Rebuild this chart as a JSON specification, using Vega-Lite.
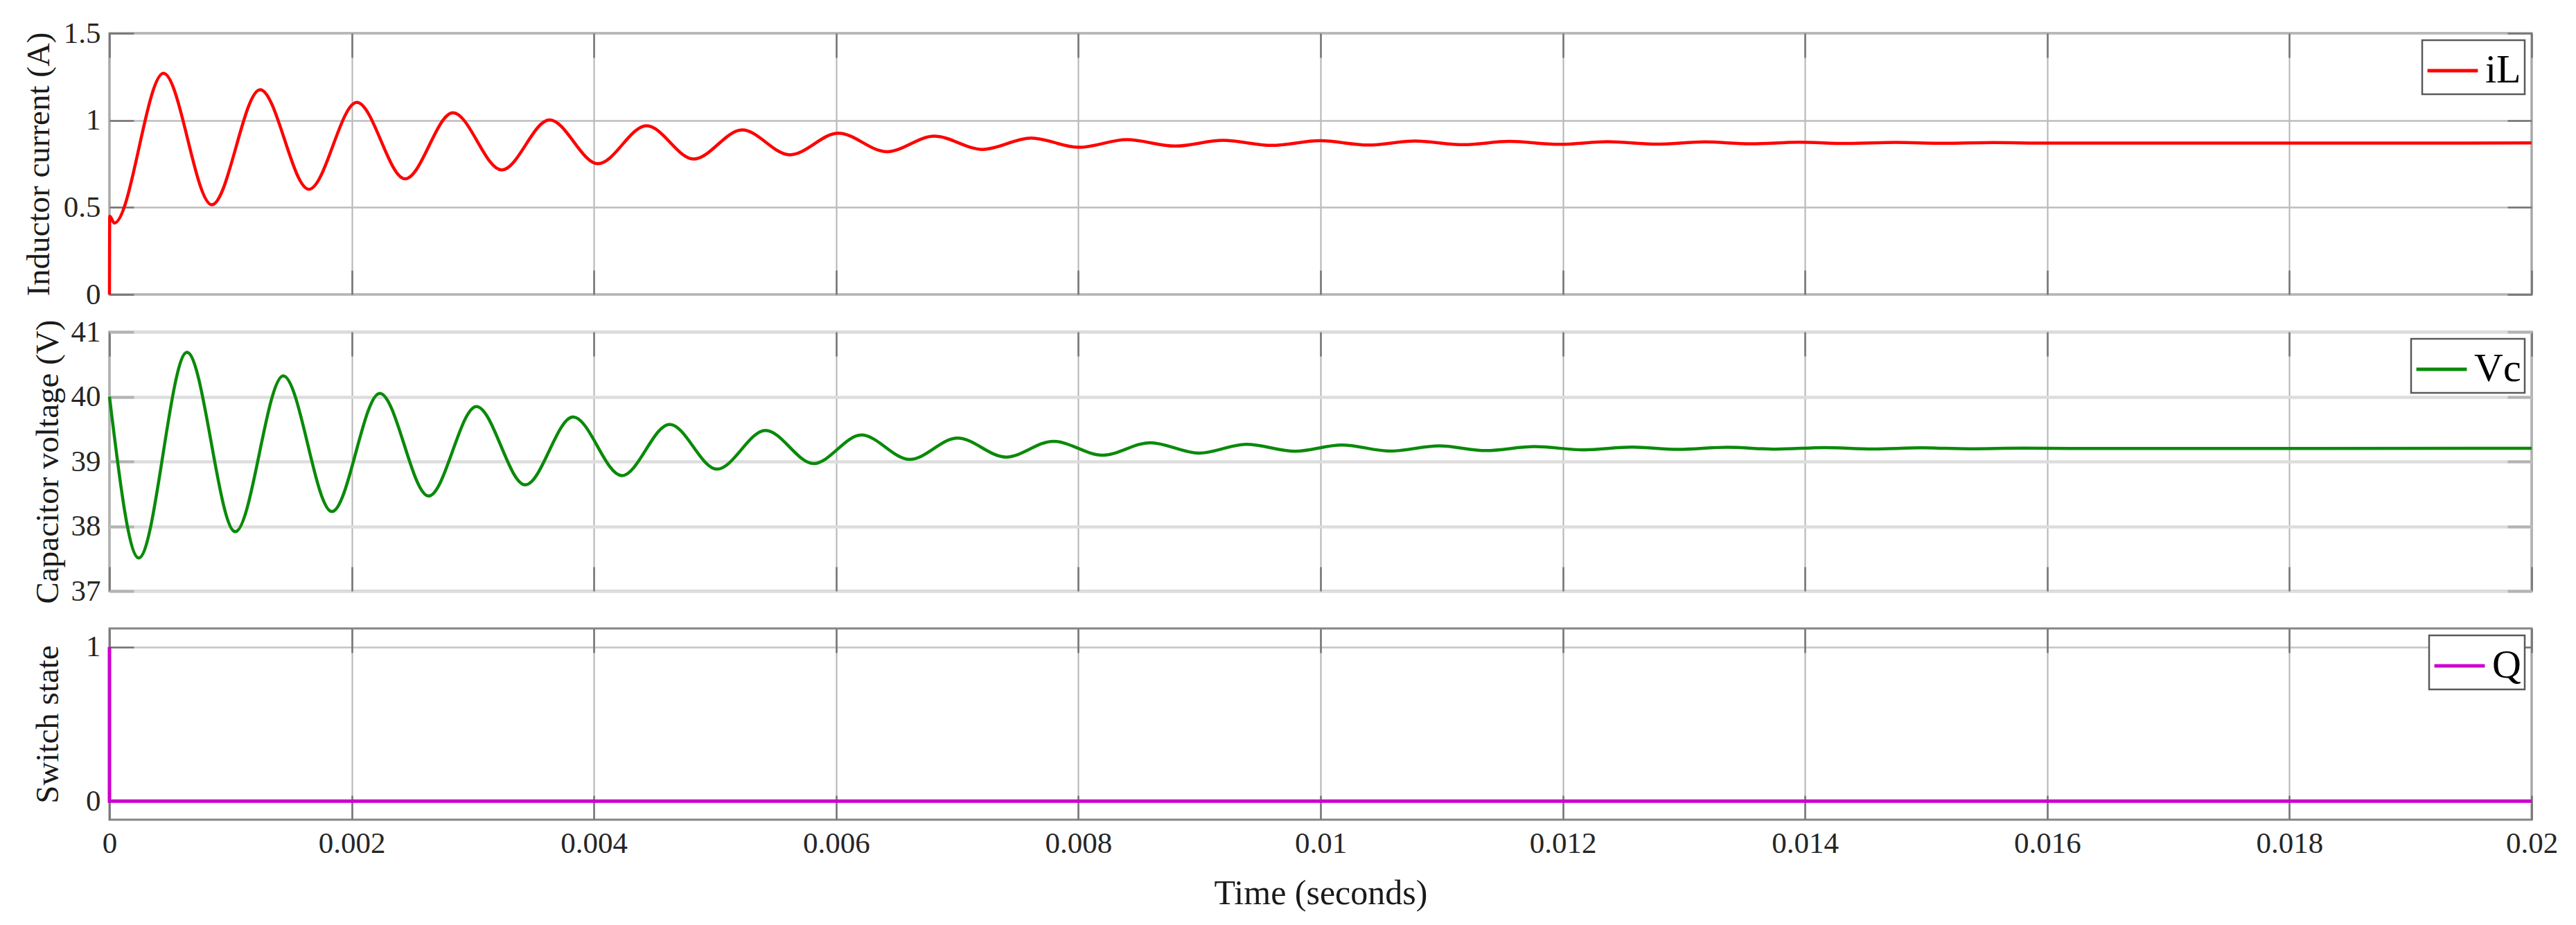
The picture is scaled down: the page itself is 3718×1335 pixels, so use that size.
{
  "$schema": "https://vega.github.io/schema/vega-lite/v6.json",
  "background": "white",
  "padding": {"left": 30, "top": 25, "right": 20, "bottom": 10},
  "config": {
    "font": "Liberation Serif",
    "view": {"stroke": "#858585", "strokeWidth": 3},
    "axis": {
      "labelFont": "Liberation Serif",
      "labelFontSize": 43,
      "labelColor": "#262626",
      "labelFlush": false,
      "labelOverlap": false,
      "labelPadding": 48,
      "tickSize": -35,
      "tickColor": "#747474",
      "tickWidth": 2.5,
      "domain": false,
      "gridColor": "#bdbdbd",
      "gridWidth": 2,
      "titleFont": "Liberation Serif",
      "titleFontSize": 47,
      "titleFontWeight": "normal",
      "titleColor": "#1a1a1a",
      "titleBaseline": "middle"
    },
    "legend": {
      "orient": "top-right",
      "offset": 10,
      "strokeColor": "#5a5a5a",
      "strokeWidth": 2.5,
      "fillColor": "white",
      "padding": 5,
      "symbolType": "stroke",
      "symbolSize": 5300,
      "symbolStrokeWidth": 5,
      "labelFont": "Liberation Serif",
      "labelFontSize": 58,
      "labelColor": "black",
      "labelOffset": 8
    }
  },
  "datasets": {
    "il": [
      {"t": 0, "v": 0, "s": "iL"},
      {"t": 0.000002, "v": 0.45, "s": "iL"},
      {"t": 0.00004, "v": 0.41, "s": "iL"},
      {"t": 0.000446, "v": 1.27, "s": "iL"},
      {"t": 0.000845, "v": 0.515, "s": "iL"},
      {"t": 0.001244, "v": 1.176, "s": "iL"},
      {"t": 0.001647, "v": 0.604, "s": "iL"},
      {"t": 0.002042, "v": 1.103, "s": "iL"},
      {"t": 0.002441, "v": 0.664, "s": "iL"},
      {"t": 0.002836, "v": 1.043, "s": "iL"},
      {"t": 0.003239, "v": 0.715, "s": "iL"},
      {"t": 0.003634, "v": 1.003, "s": "iL"},
      {"t": 0.004033, "v": 0.751, "s": "iL"},
      {"t": 0.004435, "v": 0.969, "s": "iL"},
      {"t": 0.004823, "v": 0.778, "s": "iL"},
      {"t": 0.005224, "v": 0.945, "s": "iL"},
      {"t": 0.005618, "v": 0.802, "s": "iL"},
      {"t": 0.006018, "v": 0.926, "s": "iL"},
      {"t": 0.006419, "v": 0.82, "s": "iL"},
      {"t": 0.006809, "v": 0.909, "s": "iL"},
      {"t": 0.00721, "v": 0.833, "s": "iL"},
      {"t": 0.00761, "v": 0.898, "s": "iL"},
      {"t": 0.008005, "v": 0.845, "s": "iL"},
      {"t": 0.0084, "v": 0.889, "s": "iL"},
      {"t": 0.0088, "v": 0.852, "s": "iL"},
      {"t": 0.009195, "v": 0.885, "s": "iL"},
      {"t": 0.009596, "v": 0.856, "s": "iL"},
      {"t": 0.009996, "v": 0.883, "s": "iL"},
      {"t": 0.010394, "v": 0.858, "s": "iL"},
      {"t": 0.010777, "v": 0.881, "s": "iL"},
      {"t": 0.01118, "v": 0.86, "s": "iL"},
      {"t": 0.01156, "v": 0.879, "s": "iL"},
      {"t": 0.01197, "v": 0.862, "s": "iL"},
      {"t": 0.01237, "v": 0.877, "s": "iL"},
      {"t": 0.01277, "v": 0.863, "s": "iL"},
      {"t": 0.01317, "v": 0.876, "s": "iL"},
      {"t": 0.01355, "v": 0.865, "s": "iL"},
      {"t": 0.01395, "v": 0.874, "s": "iL"},
      {"t": 0.01435, "v": 0.867, "s": "iL"},
      {"t": 0.01475, "v": 0.873, "s": "iL"},
      {"t": 0.01515, "v": 0.868, "s": "iL"},
      {"t": 0.01555, "v": 0.872, "s": "iL"},
      {"t": 0.016, "v": 0.869, "s": "iL"},
      {"t": 0.02, "v": 0.87, "s": "iL"}
    ],
    "vc": [
      {"t": 0, "v": 40.0, "s": "Vc"},
      {"t": 0.000242, "v": 37.51, "s": "Vc"},
      {"t": 0.00064, "v": 40.685, "s": "Vc"},
      {"t": 0.001039, "v": 37.916, "s": "Vc"},
      {"t": 0.001435, "v": 40.32, "s": "Vc"},
      {"t": 0.001837, "v": 38.227, "s": "Vc"},
      {"t": 0.002232, "v": 40.052, "s": "Vc"},
      {"t": 0.002635, "v": 38.467, "s": "Vc"},
      {"t": 0.00303, "v": 39.848, "s": "Vc"},
      {"t": 0.003433, "v": 38.639, "s": "Vc"},
      {"t": 0.003828, "v": 39.687, "s": "Vc"},
      {"t": 0.004231, "v": 38.782, "s": "Vc"},
      {"t": 0.004625, "v": 39.573, "s": "Vc"},
      {"t": 0.005016, "v": 38.882, "s": "Vc"},
      {"t": 0.005417, "v": 39.479, "s": "Vc"},
      {"t": 0.005814, "v": 38.968, "s": "Vc"},
      {"t": 0.006208, "v": 39.408, "s": "Vc"},
      {"t": 0.006608, "v": 39.032, "s": "Vc"},
      {"t": 0.007002, "v": 39.361, "s": "Vc"},
      {"t": 0.007403, "v": 39.068, "s": "Vc"},
      {"t": 0.007793, "v": 39.311, "s": "Vc"},
      {"t": 0.008201, "v": 39.097, "s": "Vc"},
      {"t": 0.008594, "v": 39.29, "s": "Vc"},
      {"t": 0.008995, "v": 39.129, "s": "Vc"},
      {"t": 0.009388, "v": 39.265, "s": "Vc"},
      {"t": 0.009789, "v": 39.157, "s": "Vc"},
      {"t": 0.010175, "v": 39.254, "s": "Vc"},
      {"t": 0.010577, "v": 39.16, "s": "Vc"},
      {"t": 0.01098, "v": 39.24, "s": "Vc"},
      {"t": 0.011365, "v": 39.168, "s": "Vc"},
      {"t": 0.011766, "v": 39.229, "s": "Vc"},
      {"t": 0.012172, "v": 39.18, "s": "Vc"},
      {"t": 0.012573, "v": 39.222, "s": "Vc"},
      {"t": 0.012956, "v": 39.186, "s": "Vc"},
      {"t": 0.01336, "v": 39.218, "s": "Vc"},
      {"t": 0.01376, "v": 39.19, "s": "Vc"},
      {"t": 0.01416, "v": 39.214, "s": "Vc"},
      {"t": 0.01456, "v": 39.193, "s": "Vc"},
      {"t": 0.01496, "v": 39.21, "s": "Vc"},
      {"t": 0.01536, "v": 39.196, "s": "Vc"},
      {"t": 0.0158, "v": 39.206, "s": "Vc"},
      {"t": 0.0162, "v": 39.2, "s": "Vc"},
      {"t": 0.02, "v": 39.203, "s": "Vc"}
    ],
    "q": [
      {"t": 0, "v": 1, "s": "Q", "i": 0},
      {"t": 0, "v": 0, "s": "Q", "i": 1},
      {"t": 0.02, "v": 0, "s": "Q", "i": 2}
    ]
  },
  "vconcat": [
    {
      "width": 3496,
      "height": 377,
      "view": {"stroke": "#858585", "strokeWidth": 3},
      "layer": [
        {
          "data": {"name": "il"},
          "mark": {"type": "line", "interpolate": "monotone", "strokeWidth": 4.5},
          "encoding": {
            "x": {"field": "t", "type": "quantitative", "scale": {"domain": [0, 0.02], "nice": false, "zero": false},
              "axis": {"values": [0, 0.002, 0.004, 0.006, 0.008, 0.01, 0.012, 0.014, 0.016, 0.018, 0.02], "labels": false, "title": null, "grid": true, "gridColor": "#b4b4b4", "gridWidth": 2}},
            "y": {"field": "v", "type": "quantitative", "scale": {"domain": [0, 1.5], "nice": false, "zero": false},
              "axis": {"values": [0, 0.5, 1, 1.5], "format": "~g", "title": "Inductor current (A)", "titleX": -102, "grid": true, "gridColor": "#bdbdbd", "gridWidth": 2.5}},
            "color": {"field": "s", "type": "nominal", "scale": {"domain": ["iL"], "range": ["#ff0000"]}, "legend": {"title": null}}
          }
        },
        {
          "data": {"name": "il"},
          "mark": {"type": "line", "opacity": 0},
          "encoding": {
            "x": {"field": "t", "type": "quantitative", "axis": {"orient": "top", "values": [0, 0.002, 0.004, 0.006, 0.008, 0.01, 0.012, 0.014, 0.016, 0.018, 0.02], "labels": false, "title": null, "grid": false}},
            "y": {"field": "v", "type": "quantitative", "axis": {"orient": "right", "values": [0, 0.5, 1, 1.5], "labels": false, "title": null, "grid": false}}
          }
        }
      ],
      "resolve": {"axis": {"x": "independent", "y": "independent"}}
    },
    {
      "width": 3496,
      "height": 374,
      "view": {"stroke": "#a8a8a8", "strokeWidth": 3.5},
      "layer": [
        {
          "data": {"name": "vc"},
          "mark": {"type": "line", "interpolate": "monotone", "strokeWidth": 4.5},
          "encoding": {
            "x": {"field": "t", "type": "quantitative", "scale": {"domain": [0, 0.02], "nice": false, "zero": false},
              "axis": {"values": [0, 0.002, 0.004, 0.006, 0.008, 0.01, 0.012, 0.014, 0.016, 0.018, 0.02], "labels": false, "title": null, "grid": true, "gridColor": "#b4b4b4", "gridWidth": 2}},
            "y": {"field": "v", "type": "quantitative", "scale": {"domain": [37, 41], "nice": false, "zero": false},
              "axis": {"values": [37, 38, 39, 40, 41], "format": "~g", "title": "Capacitor voltage (V)", "titleX": -89, "grid": true, "gridColor": "#dddddd", "gridWidth": 4.5, "tickColor": "#b4b4b4", "tickWidth": 4}},
            "color": {"field": "s", "type": "nominal", "scale": {"domain": ["Vc"], "range": ["#0a8a0a"]}, "legend": {"title": null}}
          }
        },
        {
          "data": {"name": "vc"},
          "mark": {"type": "line", "opacity": 0},
          "encoding": {
            "x": {"field": "t", "type": "quantitative", "axis": {"orient": "top", "values": [0, 0.002, 0.004, 0.006, 0.008, 0.01, 0.012, 0.014, 0.016, 0.018, 0.02], "labels": false, "title": null, "grid": false}},
            "y": {"field": "v", "type": "quantitative", "axis": {"orient": "right", "values": [37, 38, 39, 40, 41], "labels": false, "title": null, "grid": false, "tickColor": "#b4b4b4", "tickWidth": 4}}
          }
        }
      ],
      "resolve": {"axis": {"x": "independent", "y": "independent"}}
    },
    {
      "width": 3496,
      "height": 276,
      "view": {"stroke": "#858585", "strokeWidth": 3},
      "layer": [
        {
          "data": {"name": "q"},
          "mark": {"type": "line", "strokeWidth": 5},
          "encoding": {
            "x": {"field": "t", "type": "quantitative", "scale": {"domain": [0, 0.02], "nice": false, "zero": false},
              "axis": {"values": [0, 0.002, 0.004, 0.006, 0.008, 0.01, 0.012, 0.014, 0.016, 0.018, 0.02], "format": "~g", "labels": true, "title": "Time (seconds)", "titleFontSize": 50, "titleY": 106, "grid": true, "gridColor": "#b4b4b4", "gridWidth": 2}},
            "y": {"field": "v", "type": "quantitative", "scale": {"domain": [-0.12, 1.12], "nice": false, "zero": false},
              "axis": {"values": [0, 1], "format": "~g", "title": "Switch state", "titleX": -89, "grid": true, "gridColor": "#c4c4c4", "gridWidth": 2.5}},
            "order": {"field": "i", "type": "quantitative"},
            "color": {"field": "s", "type": "nominal", "scale": {"domain": ["Q"], "range": ["#cc00cc"]}, "legend": {"title": null}}
          }
        },
        {
          "data": {"name": "q"},
          "mark": {"type": "line", "opacity": 0},
          "encoding": {
            "x": {"field": "t", "type": "quantitative", "axis": {"orient": "top", "values": [0, 0.002, 0.004, 0.006, 0.008, 0.01, 0.012, 0.014, 0.016, 0.018, 0.02], "labels": false, "title": null, "grid": false}},
            "y": {"field": "v", "type": "quantitative", "axis": {"orient": "right", "values": [0, 1], "labels": false, "title": null, "grid": false}}
          }
        }
      ],
      "resolve": {"axis": {"x": "independent", "y": "independent"}}
    }
  ],
  "spacing": 54,
  "bounds": "flush",
  "resolve": {"scale": {"color": "independent"}, "legend": {"color": "independent"}}
}
